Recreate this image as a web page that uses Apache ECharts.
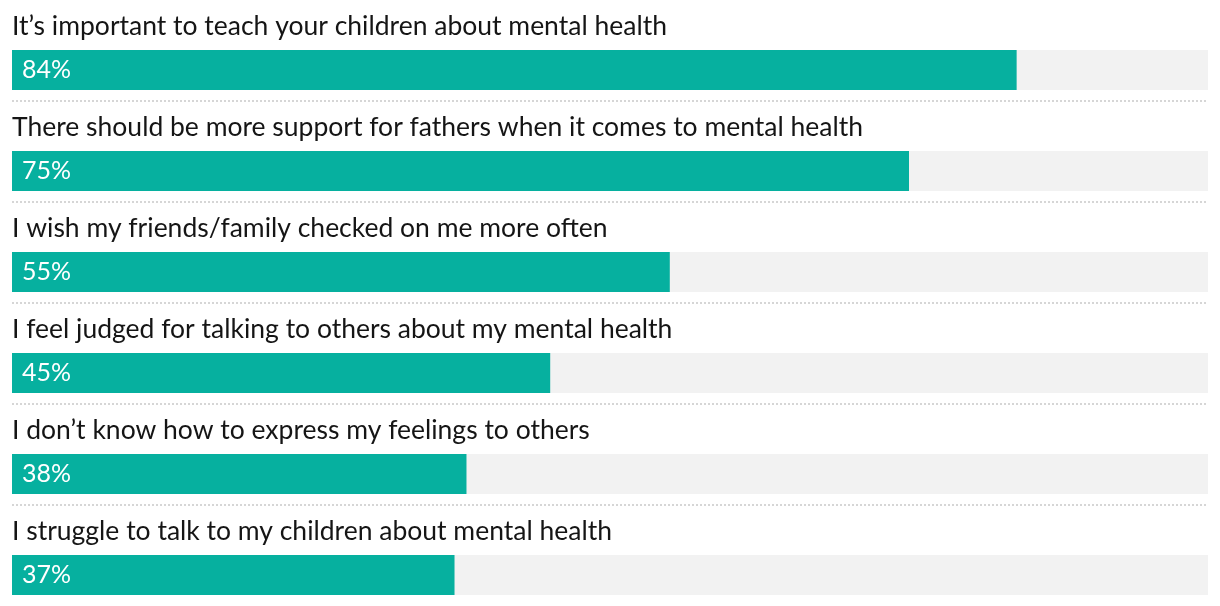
<!DOCTYPE html>
<html>
<head>
<meta charset="utf-8">
<script src="https://cdn.jsdelivr.net/npm/echarts@6/dist/echarts.min.js"></script>
<style>
html,body{margin:0;padding:0;background:#fff;}
#chart{width:1220px;height:606px;}
</style>
</head>
<body>
<div id="chart"></div>
<script>
const categories = [
  "It\u2019s important to teach your children about mental health",
  "There should be more support for fathers when it comes to mental health",
  "I wish my friends/family checked on me more often",
  "I feel judged for talking to others about my mental health",
  "I don\u2019t know how to express my feelings to others",
  "I struggle to talk to my children about mental health"
];
const values = [84, 75, 55, 45, 38, 37];
const axisMax = 100;

const chart = echarts.init(document.getElementById('chart'), null, {renderer: 'canvas'});
const textFont = 'Lato, "Noto Sans", sans-serif';
chart.setOption({
  animation: false,
  grid: {left: 12, right: 12, top: 0, height: 607, containLabel: false},
  xAxis: {type: 'value', min: 0, max: axisMax, show: false},
  yAxis: {
    type: 'category', data: categories, inverse: true,
    axisLine: {show: false}, axisTick: {show: false}, axisLabel: {show: false},
    splitLine: {
      show: true,
      showMinLine: false,
      showMaxLine: false,
      lineStyle: {color: '#d6d6d6', width: 2, type: [2, 2]}
    }
  },
  series: [
    {
      type: 'bar', name: 'label', data: values.map(() => axisMax), barWidth: 39, barGap: '0%',
      itemStyle: {color: 'rgba(0,0,0,0)'},
      silent: true,
      label: {
        show: true, position: 'insideLeft', distance: 0, offset: [0, -4],
        formatter: '{b}', color: '#151515', fontSize: 26.5,
        fontFamily: textFont
      },
      z: 2
    },
    {
      type: 'bar', name: 'value', data: values, barWidth: 40, barGap: '0%',
      itemStyle: {color: '#06b09f'},
      showBackground: true,
      backgroundStyle: {color: '#f2f2f2'},
      label: {
        show: true, position: 'insideLeft', distance: 10,
        formatter: '{c}%', color: '#ffffff', fontSize: 25,
        fontFamily: textFont
      },
      z: 3
    }
  ]
});
</script>
</body>
</html>
